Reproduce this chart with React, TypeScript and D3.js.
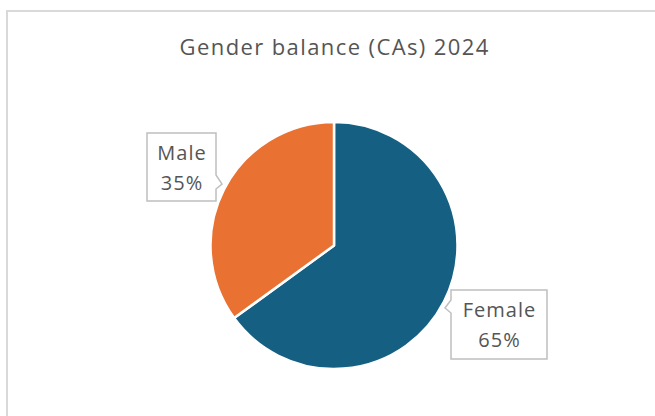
import React from "react";
import * as d3 from "d3";

const categories = ["Female", "Male"];
const values = [65, 35];
const colors = ["#156082", "#E97132"];
const title = "Gender balance (CAs) 2024";

export default function App() {
  const W = 655, H = 416;
  const cx = 334, cy = 245.5, r = 123.5;
  const pie = d3.pie<number>().sort(null).value((d) => d)(values);
  const arc = d3.arc<d3.PieArcDatum<number>>().innerRadius(0).outerRadius(r);
  const total = d3.sum(values);

  const boxes = [
    { x: 451, y: 290, w: 96, h: 69, side: "left", py0: 300, py1: 313, tip: [445, 308] },
    { x: 147, y: 133, w: 69, h: 68, side: "right", py0: 175, py1: 189, tip: [222, 184] },
  ];

  return (
    <div style={{ position: "absolute", left: 0, top: 0, width: W, height: H, background: "#fff" }}>
      <svg width={W} height={H} style={{ display: "block" }}>
        <rect x={7} y={11} width={W} height={H} fill="#fff" stroke="#d9d9d9" strokeWidth={2} />
        <text x={cx + 0.7} y={55} textAnchor="middle" fontFamily="'Open Sans', sans-serif" fontSize={22} letterSpacing={1.4} fill="#555555">
          {title}
        </text>
        <g transform={`translate(${cx},${cy})`}>
          {pie.map((p, i) => (
            <path key={categories[i]} d={arc(p) || ""} fill={colors[i]} stroke="#fff" strokeWidth={2.5} strokeLinejoin="round" />
          ))}
        </g>
        {boxes.map((b, i) => {
          const { x, y, w, h } = b;
          let d = "";
          if (b.side === "left") {
            d = `M${x},${y} H${x + w} V${y + h} H${x} V${b.py1} L${b.tip[0]},${b.tip[1]} L${x},${b.py0} Z`;
          } else {
            d = `M${x},${y} H${x + w} V${b.py0} L${b.tip[0]},${b.tip[1]} L${x + w},${b.py1} V${y + h} H${x} Z`;
          }
          const tx = x + w / 2 + 0.5;
          const pct = Math.round((values[i] / total) * 100) + "%";
          return (
            <g key={categories[i]}>
              <path d={d} fill="#fff" stroke="#bfbfbf" strokeWidth={1.5} />
              <text x={tx} y={y + 27} textAnchor="middle" fontFamily="'Open Sans', sans-serif" fontSize={20} letterSpacing={1} fill="#555555">
                {categories[i]}
              </text>
              <text x={tx} y={y + 57} textAnchor="middle" fontFamily="'Open Sans', sans-serif" fontSize={20} letterSpacing={1} fill="#555555">
                {pct}
              </text>
            </g>
          );
        })}
      </svg>
    </div>
  );
}
